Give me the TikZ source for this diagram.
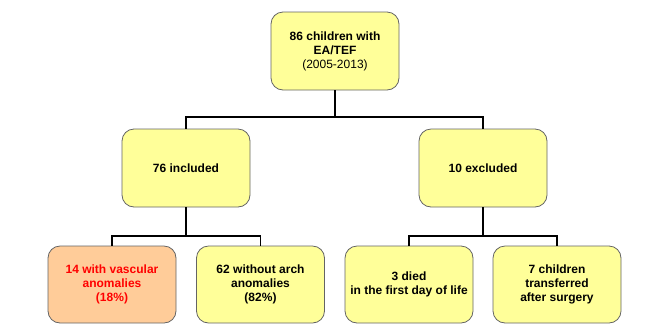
\documentclass[tikz,border=0pt]{standalone}
\usepackage{fontspec}
\setmainfont{Liberation Sans}
\definecolor{boxyellow}{RGB}{255,255,153}
\definecolor{boxorange}{RGB}{255,204,153}
\definecolor{boxborder}{RGB}{100,100,100}
\begin{document}
\begin{tikzpicture}[x=1pt,y=-1pt,
  box/.style={draw=boxborder, line width=0.8pt, fill=boxyellow, rounded corners=12pt,
    minimum width=128pt, minimum height=78pt, align=center, inner sep=2pt,
    font=\fontsize{12}{14}\selectfont\bfseries},
  conn/.style={draw=black, line width=1.6pt}]
\useasboundingbox (0,0) rectangle (658,325);
\node[box] (top) at (335,51) {86 children with\\EA/TEF\\{\mdseries (2005-2013)}};
\node[box] (inc) at (186,168) {76 included};
\node[box] (exc) at (483,168) {10 excluded};
\node[box, fill=boxorange, text=red, minimum height=77pt] (vasc) at (112,284.5) {14 with vascular\\anomalies\\(18\%)};
\node[box, minimum height=77pt] (noarch) at (260.5,284.5) {62 without arch\\anomalies\\(82\%)};
\node[box, minimum height=77pt] (died) at (409,284.5) {3 died\\in the first day of life};
\node[box, minimum height=77pt] (trans) at (557,284.5) {7 children\\transferred\\after surgery};
\coordinate (j1) at (335,117);
\coordinate (j2) at (186,236);
\coordinate (j3) at (483,236);
\draw[conn] (top.south) -- (j1);
\draw[conn] (inc.north) |- (j1) -| (exc.north);
\draw[conn] (inc.south) -- (j2);
\draw[conn] (vasc.north) |- (j2) -| (noarch.north);
\draw[conn] (exc.south) -- (j3);
\draw[conn] (died.north) |- (j3) -| (trans.north);
\end{tikzpicture}
\end{document}
